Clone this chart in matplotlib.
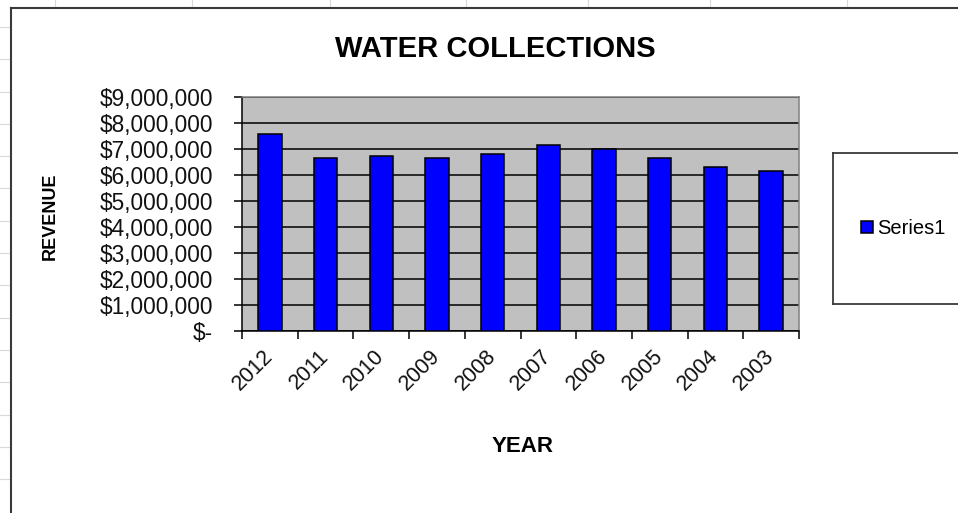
import matplotlib
matplotlib.use("Agg")
import matplotlib.pyplot as plt
from matplotlib.lines import Line2D
from matplotlib.ticker import FuncFormatter

years = ['2012', '2011', '2010', '2009', '2008', '2007', '2006', '2005', '2004', '2003']
revenue = [7590000, 6650000, 6730000, 6650000, 6790000, 7150000, 6980000, 6650000, 6300000, 6160000]
y_ticks = [0, 1000000, 2000000, 3000000, 4000000, 5000000, 6000000, 7000000, 8000000, 9000000]

plt.rcParams['font.family'] = ['Liberation Sans', 'DejaVu Sans']

W, H = 958, 513
fig = plt.figure(figsize=(W / 100, H / 100), dpi=100)
fig.patch.set_facecolor('white')

# spreadsheet cell lines behind the chart object
for yy in [26.7, 59.3, 91.7, 124, 156, 188.3, 220.7, 253, 285.3, 317.7, 350, 382.3, 414.7, 446.7, 479]:
    fig.add_artist(Line2D([0, 10 / W], [1 - yy / H] * 2, color='#d9d9d9', lw=0.8))
for xx in [55, 192, 330, 466, 588, 710, 847]:
    fig.add_artist(Line2D([xx / W] * 2, [1, 1 - 7 / H], color='#d9d9d9', lw=0.8))

# chart object border
fig.add_artist(Line2D([11 / W, 1.01], [1 - 8 / H] * 2, color='#3a3a3a', lw=1.5))
fig.add_artist(Line2D([11 / W] * 2, [1 - 8 / H, -0.01], color='#3a3a3a', lw=1.5))

ax = fig.add_axes([242 / W, 1 - 330.7 / H, 557 / W, 233.7 / H])
ax.set_facecolor('#c0c0c0')

x = list(range(len(years)))
bars = ax.bar(x, revenue, width=0.42, color='#0000ff', edgecolor='black',
              linewidth=1.1, label='Series1', zorder=3)

ax.set_xlim(-0.5, len(years) - 0.5)
ax.set_ylim(0, 9000000)
ax.set_yticks(y_ticks)
ax.yaxis.set_major_formatter(FuncFormatter(lambda v, p: '$-' if v == 0 else '${:,.0f}'.format(v)))
ax.grid(axis='y', color='black', lw=1.1, zorder=1)
ax.set_axisbelow(True)

ax.set_xticks(x)
ax.set_xticklabels(years, rotation=45, ha='right', va='center', rotation_mode='anchor')
ax.set_xticks([i - 0.5 for i in range(len(years) + 1)], minor=True)
ax.tick_params(axis='x', which='major', length=0, pad=16, labelsize=15.5, labelcolor='#111111')
ax.tick_params(axis='x', which='minor', length=6, width=1.1, color='black')
ax.tick_params(axis='y', length=6, width=1.1, color='black', pad=15, labelsize=16.3,
               labelcolor='#111111')

for side in ['top', 'right']:
    ax.spines[side].set_color('#808080')
    ax.spines[side].set_linewidth(1.1)
for side in ['left', 'bottom']:
    ax.spines[side].set_color('black')
    ax.spines[side].set_linewidth(1.1)

fig.text(495 / W, 1 - 49 / H, 'WATER COLLECTIONS', ha='center', va='center',
         fontsize=21, fontweight='bold')
fig.text(523 / W, 1 - 447 / H, 'YEAR', ha='center', va='center',
         fontsize=16, fontweight='bold')
fig.text(50 / W, 1 - 216.7 / H, 'REVENUE', ha='center', va='center', rotation=90,
         fontsize=13, fontweight='bold')

# legend box
lax = fig.add_axes([833 / W, 1 - 304 / H, 140 / W, 151 / H])
lax.set_xticks([])
lax.set_yticks([])
for s in lax.spines.values():
    s.set_color('#3a3a3a')
    s.set_linewidth(1.3)
lax.legend(handles=[bars], loc='center', bbox_to_anchor=(0.5, 0.5), frameon=False,
           fontsize=14.5, handlelength=0.6, handleheight=0.6, handletextpad=0.2)

fig.savefig('out.png', dpi=100)
